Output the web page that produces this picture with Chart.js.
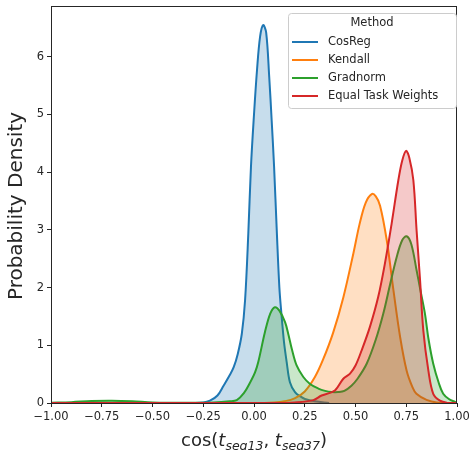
<!DOCTYPE html>
<html>
<head>
<meta charset="utf-8">
<script src="https://cdn.jsdelivr.net/npm/chart.js@4"></script>
<style>
html,body{margin:0;padding:0;background:#fff;}
#wrap{width:469px;height:450px;position:relative;}
</style>
</head>
<body>
<div id="wrap"><canvas id="c" width="469" height="450"></canvas></div>
<script>
// ---- data ----
const seriesNames = ["CosReg", "Kendall", "Gradnorm", "Equal Task Weights"];
const seriesColors = ["#1f77b4", "#ff7f0e", "#2ca02c", "#d62728"];

const cosregX = [-1.0,-0.35,-0.25,-0.217,-0.18,-0.15,-0.12,-0.10,-0.08,-0.06,-0.044,-0.028,-0.015,0.0,0.015,0.03,0.045,0.06,0.075,0.087,0.099,0.112,0.125,0.135,0.148,0.161,0.177,0.202,0.23,0.251,0.3,0.37];
const cosregY = [0,0,0.01,0.04,0.13,0.3,0.48,0.62,0.85,1.2,1.78,2.94,4.09,5.0,5.78,6.35,6.55,6.42,5.65,4.9,4.09,3.0,2.0,1.55,1.05,0.71,0.36,0.19,0.11,0.07,0.03,0];

const kendallX = [-1.0,0.0,0.1,0.15,0.2,0.25,0.3,0.34,0.39,0.44,0.49,0.52,0.55,0.58,0.60,0.621,0.654,0.687,0.72,0.752,0.78,0.80,0.85,0.9,1.0];
const kendallY = [0,0,0.01,0.03,0.08,0.2,0.45,0.75,1.22,1.83,2.6,3.1,3.47,3.62,3.58,3.42,2.82,1.95,1.14,0.56,0.28,0.16,0.055,0.01,0];

const gradnormX = [-1.0,-0.9,-0.8,-0.7,-0.6,-0.5,-0.4,-0.3,-0.2,-0.12,-0.085,-0.05,-0.02,0.005,0.021,0.054,0.08,0.103,0.125,0.153,0.17,0.186,0.21,0.243,0.276,0.317,0.35,0.383,0.415,0.445,0.48,0.51,0.555,0.6,0.637,0.67,0.703,0.73,0.752,0.775,0.801,0.82,0.842,0.86,0.883,0.91,0.932,0.96,0.99,1.0];
const gradnormY = [0.005,0.015,0.035,0.04,0.03,0.01,0.005,0.005,0.01,0.03,0.05,0.17,0.35,0.53,0.71,1.23,1.55,1.66,1.6,1.4,1.18,0.94,0.65,0.45,0.33,0.25,0.21,0.19,0.19,0.21,0.3,0.42,0.68,1.1,1.55,2.05,2.53,2.82,2.89,2.75,2.30,1.95,1.55,1.1,0.68,0.35,0.16,0.07,0.02,0.01];

const equalX = [-1.0,0.1,0.2,0.292,0.333,0.37,0.40,0.44,0.473,0.50,0.53,0.571,0.612,0.645,0.678,0.711,0.73,0.749,0.765,0.785,0.801,0.818,0.834,0.859,0.883,0.916,0.95,1.0];
const equalY = [0,0,0.01,0.05,0.13,0.17,0.22,0.42,0.51,0.65,0.91,1.32,1.84,2.42,3.11,3.86,4.2,4.37,4.25,3.86,2.99,2.13,1.26,0.56,0.16,0.04,0.005,0];

const xTicks = [-1.0,-0.75,-0.5,-0.25,0.0,0.25,0.5,0.75,1.0];
const yTicks = [0,1,2,3,4,5,6];
const xMin = -1.0, xMax = 1.0, yMin = 0, yMax = 6.88;
const legendTitle = "Method";
const yLabel = "Probability Density";
// x label pieces: [text, italic, subscript]
const xLabelParts = [["cos(",false,false],["t",true,false],["seg13",true,true],[", ",false,false],["t",true,false],["seg37",true,true],[")",false,false]];

// ---- build ----
const xs = [cosregX, kendallX, gradnormX, equalX];
const ys = [cosregY, kendallY, gradnormY, equalY];
function rgba(hex, a){
  const n = parseInt(hex.slice(1),16);
  return `rgba(${(n>>16)&255},${(n>>8)&255},${n&255},${a})`;
}
const datasets = seriesNames.map((name,i)=>({
  label: name,
  data: xs[i].map((x,j)=>({x:x, y:ys[i][j]})),
  borderColor: seriesColors[i],
  backgroundColor: rgba(seriesColors[i],0.25),
  borderWidth: 2,
  fill: 'origin',
  pointRadius: 0,
  tension: 0.35,
  order: 4 - i
}));

const FONT = "'DejaVu Sans', sans-serif";
const TXT = '#262626';

const framePlugin = {
  id: 'frame',
  afterDraw(chart){
    const ctx = chart.ctx, a = chart.chartArea;
    ctx.save();
    ctx.strokeStyle = '#262626';
    ctx.lineWidth = 1;
    ctx.strokeRect(Math.round(a.left)+0.5, Math.round(a.top)+0.5, Math.round(a.right-a.left)-1, Math.round(a.bottom-a.top));
    ctx.restore();

    // legend
    ctx.save();
    const lx = 288, ly = 13, lw = 168, lh = 95, r = 3;
    ctx.fillStyle = 'rgba(255,255,255,0.8)';
    ctx.strokeStyle = '#cccccc';
    ctx.lineWidth = 1;
    ctx.beginPath();
    ctx.moveTo(lx+r+0.5, ly+0.5);
    ctx.arcTo(lx+lw+0.5, ly+0.5, lx+lw+0.5, ly+lh+0.5, r);
    ctx.arcTo(lx+lw+0.5, ly+lh+0.5, lx+0.5, ly+lh+0.5, r);
    ctx.arcTo(lx+0.5, ly+lh+0.5, lx+0.5, ly+0.5, r);
    ctx.arcTo(lx+0.5, ly+0.5, lx+lw+0.5, ly+0.5, r);
    ctx.closePath();
    ctx.fill(); ctx.stroke();
    ctx.fillStyle = TXT;
    ctx.font = `11.5px ${FONT}`;
    ctx.textBaseline = 'middle';
    ctx.textAlign = 'center';
    ctx.fillText(legendTitle, lx + lw/2, 23.5);
    ctx.textAlign = 'left';
    seriesNames.forEach((name,i)=>{
      const y = 42 + i*18;
      ctx.strokeStyle = seriesColors[i];
      ctx.lineWidth = 2;
      ctx.beginPath(); ctx.moveTo(292, y); ctx.lineTo(318, y); ctx.stroke();
      ctx.fillStyle = TXT;
      ctx.fillText(name, 328, y);
    });
    ctx.restore();

    // y label
    ctx.save();
    ctx.fillStyle = TXT;
    ctx.font = `20px ${FONT}`;
    ctx.textAlign = 'center';
    ctx.textBaseline = 'middle';
    ctx.translate(17, 206);
    ctx.rotate(-Math.PI/2);
    ctx.fillText(yLabel, 0, 0);
    ctx.restore();

    // x label
    ctx.save();
    ctx.fillStyle = TXT;
    ctx.textBaseline = 'alphabetic';
    const big = 18, small = 12.5;
    const fontFor = (it,sub)=>`${it?'italic ':''}${sub?small:big}px ${FONT}`;
    let total = 0;
    xLabelParts.forEach(p=>{ ctx.font = fontFor(p[1],p[2]); total += ctx.measureText(p[0]).width; });
    let x = (a.left + a.right)/2 - total/2;
    const base = 446;
    xLabelParts.forEach(p=>{
      ctx.font = fontFor(p[1],p[2]);
      ctx.fillText(p[0], x, base + (p[2]?3.5:0));
      x += ctx.measureText(p[0]).width;
    });
    ctx.restore();
  }
};

new Chart(document.getElementById('c'), {
  type: 'line',
  data: { datasets },
  options: {
    responsive: false,
    animation: false,
    devicePixelRatio: 1,
    layout: { padding: { left: 0, right: 12, top: 6, bottom: 0 } },
    plugins: { legend: { display: false }, tooltip: { enabled: false } },
    scales: {
      x: {
        type: 'linear', min: xMin, max: xMax,
        afterBuildTicks(s){ s.ticks = xTicks.map(v=>({value:v})); },
        afterFit(s){ s.height = 47; s.paddingLeft = 0; s.paddingRight = 0; },
        grid: { drawOnChartArea: false, drawTicks: true, tickLength: 4, color: '#262626' },
        border: { display: false },
        ticks: { color: TXT, font: { family: FONT, size: 11.5 }, padding: 3, maxRotation: 0, autoSkip: false,
          callback: v => v.toFixed(2).replace('-', '\u2212') }
      },
      y: {
        type: 'linear', min: yMin, max: yMax,
        afterBuildTicks(s){ s.ticks = yTicks.map(v=>({value:v})); },
        afterFit(s){ s.width = 51; s.paddingTop = 0; s.paddingBottom = 0; },
        grid: { drawOnChartArea: false, drawTicks: true, tickLength: 4, color: '#262626' },
        border: { display: false },
        ticks: { color: TXT, font: { family: FONT, size: 11.5 }, padding: 3, autoSkip: false,
          callback: v => String(v) }
      }
    }
  },
  plugins: [framePlugin]
});
</script>
</body>
</html>
